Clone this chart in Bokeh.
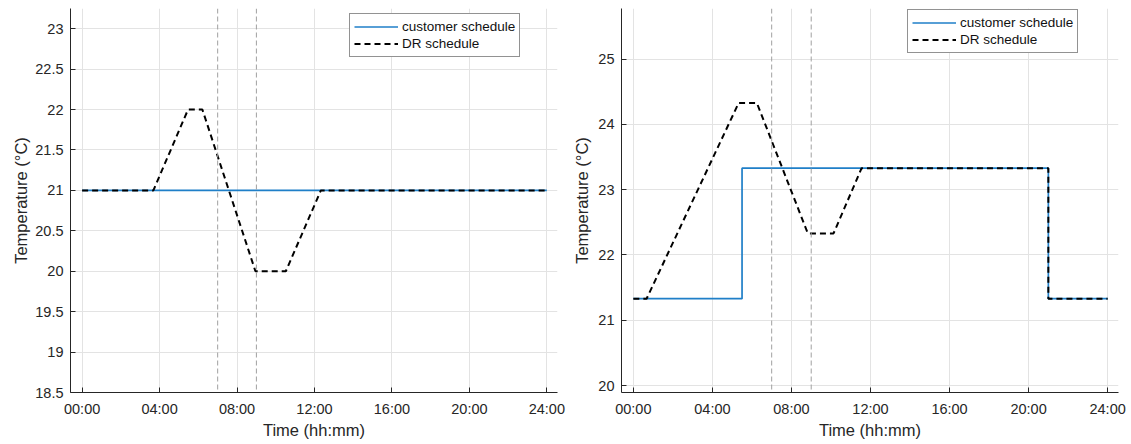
from bokeh.plotting import figure
from bokeh.models import Range1d, FixedTicker, Span, Legend, LegendItem
from bokeh.layouts import row
from bokeh.embed import file_html
from bokeh.resources import INLINE

# ---------------- data ----------------
x_ticks = [0, 4, 8, 12, 16, 20, 24]
x_tick_labels = ["00:00", "04:00", "08:00", "12:00", "16:00", "20:00", "24:00"]
dr_window = [7, 9]

# left panel
left_y_ticks = [18.5, 19, 19.5, 20, 20.5, 21, 21.5, 22, 22.5, 23]
left_y_labels = ["18.5", "19", "19.5", "20", "20.5", "21", "21.5", "22", "22.5", "23"]
left_cust_t = [0, 24]
left_cust_T = [21, 21]
left_dr_t = [0, 3.68, 5.47, 6.21, 8.95, 10.52, 12.33, 24]
left_dr_T = [21, 21, 22, 22, 20, 20, 21, 21]

# right panel
right_y_ticks = [20, 21, 22, 23, 24, 25]
right_y_labels = ["20", "21", "22", "23", "24", "25"]
right_cust_t = [0, 5.5, 5.5, 21, 21, 24]
right_cust_T = [21.33, 21.33, 23.33, 23.33, 21.33, 21.33]
right_dr_t = [0, 0.67, 5.33, 6.25, 8.83, 10.13, 11.55, 21, 21, 24]
right_dr_T = [21.33, 21.33, 24.33, 24.33, 22.33, 22.33, 23.33, 23.33, 21.33, 21.33]

FONT = "Liberation Sans"
AX = "#262626"
GRID = "#e3e3e3"
BLUE = "#1f7fc8"


def make_panel(width, height, xr, yr, yt, yl, ct, cT, dt, dT, borders, legend_loc, ylab_standoff):
    p = figure(width=width, height=height, x_range=Range1d(*xr), y_range=Range1d(*yr),
               output_backend="svg", toolbar_location=None,
               min_border_left=borders[0], min_border_right=borders[1],
               min_border_top=borders[2], min_border_bottom=borders[3])
    p.outline_line_color = None
    p.background_fill_color = "white"
    p.border_fill_color = "white"

    p.xaxis.ticker = FixedTicker(ticks=x_ticks)
    p.xaxis.major_label_overrides = {t: l for t, l in zip(x_ticks, x_tick_labels)}
    p.yaxis.ticker = FixedTicker(ticks=yt)
    p.yaxis.major_label_overrides = {t: l for t, l in zip(yt, yl)}
    p.xaxis.axis_label = "Time (hh:mm)"
    p.yaxis.axis_label = "Temperature (°C)"
    for ax in (p.xaxis[0], p.yaxis[0]):
        ax.axis_line_color = AX
        ax.axis_line_width = 1
        ax.major_tick_line_color = AX
        ax.major_tick_in = 5
        ax.major_tick_out = 0
        ax.minor_tick_in = 0
        ax.minor_tick_out = 0
        ax.major_label_text_font = FONT
        ax.major_label_text_font_size = "14.5px"
        ax.major_label_text_color = AX
        ax.axis_label_text_font = FONT
        ax.axis_label_text_font_size = "16.5px"
        ax.axis_label_text_font_style = "normal"
        ax.axis_label_text_color = AX
    p.xaxis.major_label_standoff = 8
    p.xaxis.axis_label_standoff = 1
    p.yaxis.major_label_standoff = 7
    p.yaxis.axis_label_standoff = ylab_standoff

    p.xgrid.ticker = FixedTicker(ticks=x_ticks)
    p.ygrid.ticker = FixedTicker(ticks=yt)
    p.grid.grid_line_color = GRID
    p.grid.grid_line_width = 1

    for loc in dr_window:
        p.add_layout(Span(location=loc, dimension="height", line_color="#a0a0a0",
                          line_width=1, line_dash="5 3"))

    r1 = p.line(ct, cT, line_color=BLUE, line_width=1.7)
    r2 = p.line(dt, dT, line_color="black", line_width=2, line_dash="6 4")

    leg = Legend(items=[LegendItem(label="customer schedule", renderers=[r1]),
                        LegendItem(label="DR schedule", renderers=[r2])],
                 location=legend_loc)
    leg.label_text_font = FONT
    leg.label_text_font_size = "13.5px"
    leg.label_text_color = "#111111"
    leg.border_line_color = AX
    leg.border_line_width = 1
    leg.background_fill_alpha = 1
    leg.glyph_width = 44
    leg.glyph_height = 17
    leg.label_height = 17
    leg.label_standoff = 4
    leg.padding = 4
    leg.spacing = 0
    leg.margin = 0
    p.add_layout(leg)
    return p


p1 = make_panel(566, 444, (-0.6, 24.55), (18.5, 23.25), left_y_ticks, left_y_labels,
                left_cust_t, left_cust_T, left_dr_t, left_dr_T,
                (70, 9, 8, 52), (279, 335), 2)
p2 = make_panel(564, 444, (-0.6, 24.55), (19.893, 25.777), right_y_ticks, right_y_labels,
                right_cust_t, right_cust_T, right_dr_t, right_dr_T,
                (55, 12, 8, 52), (286, 339), 4)

layout = row(p1, p2)
open("out.html", "w").write(file_html(layout, INLINE))
